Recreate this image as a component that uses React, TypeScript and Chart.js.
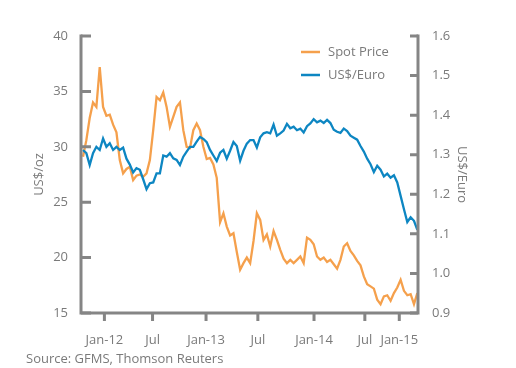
import React, { useEffect, useRef } from 'react';
import { Chart, registerables } from 'chart.js';

Chart.register(...registerables);

// Weekly-ish samples, Oct 2011 – Feb 2015 (index = sample number)
const spotPrice = [
  29.1, 30.6, 32.6, 34.0, 33.6, 37.2, 33.6, 32.8, 32.9, 32.0,
  31.3, 28.8, 27.6, 28.0, 28.2, 27.0, 27.4, 27.5, 27.3, 27.6,
  28.8, 31.5, 34.5, 34.2, 34.9, 33.6, 31.8, 32.7, 33.6, 34.0,
  31.5, 30.0, 29.9, 31.5, 32.1, 31.5, 30.0, 28.9, 29.0, 28.4,
  27.2, 23.2, 24.0, 22.8, 22.0, 22.2, 20.5, 18.9, 19.5, 20.0,
  19.5, 21.5, 24.0, 23.4, 21.6, 22.1, 21.0, 22.4, 21.6, 20.7,
  19.9, 19.5, 19.8, 19.5, 19.8, 20.1, 19.5, 21.8, 21.6, 21.2,
  20.1, 19.8, 20.0, 19.6, 19.8, 19.4, 19.0, 19.8, 21.0, 21.3,
  20.6, 20.2, 19.7, 19.3, 18.3, 17.6, 17.4, 17.2, 16.2, 15.8,
  16.5, 16.6, 16.1, 16.8, 17.3, 18.0, 17.0, 16.6, 16.7, 15.8,
  16.8,
];

const usdEuro = [
  1.312, 1.304, 1.274, 1.304, 1.320, 1.312, 1.341, 1.320, 1.329, 1.312,
  1.320, 1.312, 1.318, 1.290, 1.275, 1.255, 1.266, 1.262, 1.238, 1.213,
  1.228, 1.230, 1.253, 1.253, 1.298, 1.295, 1.304, 1.291, 1.287, 1.274,
  1.295, 1.308, 1.320, 1.320, 1.333, 1.345, 1.340, 1.332, 1.312, 1.298,
  1.284, 1.305, 1.312, 1.290, 1.310, 1.332, 1.322, 1.285, 1.310, 1.328,
  1.337, 1.337, 1.318, 1.344, 1.354, 1.357, 1.354, 1.376, 1.348, 1.354,
  1.361, 1.378, 1.367, 1.371, 1.362, 1.366, 1.356, 1.372, 1.379, 1.390,
  1.382, 1.386, 1.380, 1.388, 1.380, 1.363, 1.358, 1.355, 1.366, 1.360,
  1.348, 1.343, 1.338, 1.322, 1.308, 1.290, 1.276, 1.256, 1.272, 1.262,
  1.245, 1.252, 1.242, 1.248, 1.230, 1.196, 1.162, 1.130, 1.142, 1.133,
  1.110,
];

const xTickPositions = [6.4, 20.8, 36.8, 52.3, 69.1, 84.3, 94.6];
const xTickLabels = ['Jan-12', 'Jul', 'Jan-13', 'Jul', 'Jan-14', 'Jul', 'Jan-15'];

const SPOT_COLOR = '#F5A04C';
const EURO_COLOR = '#0D86C2';
const AXIS_COLOR = '#858585';
const TEXT_COLOR = '#7a7a7a';
const FONT = "'Open Sans', sans-serif";

const decorPlugin = {
  id: 'decor',
  afterDraw(chart: any) {
    const { ctx, chartArea: a, scales } = chart;
    ctx.save();
    ctx.strokeStyle = AXIS_COLOR;
    ctx.lineWidth = 3;
    ctx.lineCap = 'butt';
    ctx.beginPath();
    ctx.moveTo(a.left, a.top - 1.5);
    ctx.lineTo(a.left, a.bottom + 1.5);
    ctx.moveTo(a.right, a.top - 1.5);
    ctx.lineTo(a.right, a.bottom + 1.5);
    ctx.moveTo(a.left - 1.5, a.bottom);
    ctx.lineTo(a.right + 1.5, a.bottom);
    ctx.stroke();

    ctx.beginPath();
    scales.yL.ticks.forEach((t: any) => {
      const y = scales.yL.getPixelForValue(t.value);
      ctx.moveTo(a.left, y);
      ctx.lineTo(a.left + 10, y);
    });
    scales.yR.ticks.forEach((t: any) => {
      const y = scales.yR.getPixelForValue(t.value);
      ctx.moveTo(a.right - 8, y);
      ctx.lineTo(a.right, y);
    });
    scales.x.ticks.forEach((t: any) => {
      const x = scales.x.getPixelForValue(t.value);
      ctx.moveTo(x, a.bottom);
      ctx.lineTo(x, a.bottom + 8);
    });
    ctx.stroke();

    // legend
    const items = [
      { label: 'Spot Price', color: SPOT_COLOR, y: 52 },
      { label: 'US$/Euro', color: EURO_COLOR, y: 75 },
    ];
    ctx.font = `13px ${FONT}`;
    ctx.textBaseline = 'middle';
    ctx.textAlign = 'left';
    items.forEach((it) => {
      ctx.strokeStyle = it.color;
      ctx.lineWidth = 2.5;
      ctx.beginPath();
      ctx.moveTo(301, it.y);
      ctx.lineTo(320, it.y);
      ctx.stroke();
      ctx.fillStyle = TEXT_COLOR;
      ctx.fillText(it.label, 328, it.y);
    });
    ctx.restore();
  },
};

export default function App() {
  const ref = useRef<HTMLCanvasElement | null>(null);

  useEffect(() => {
    if (!ref.current) return;
    const tickFont = { family: FONT, size: 13 };
    const chart = new Chart(ref.current, {
      type: 'line',
      data: {
        datasets: [
          {
            label: 'US$/Euro',
            data: usdEuro.map((y, i) => ({ x: i, y })),
            borderColor: EURO_COLOR,
            borderWidth: 2.3,
            pointRadius: 0,
            tension: 0,
            yAxisID: 'yR',
          },
          {
            label: 'Spot Price',
            data: spotPrice.map((y, i) => ({ x: i, y })),
            borderColor: SPOT_COLOR,
            borderWidth: 2.3,
            pointRadius: 0,
            tension: 0,
            yAxisID: 'yL',
          },
        ],
      },
      options: {
        responsive: false,
        animation: false,
        layout: { padding: { top: 36, left: 0, right: 0, bottom: 0 } },
        plugins: { legend: { display: false }, tooltip: { enabled: false } },
        scales: {
          x: {
            type: 'linear',
            min: -0.6,
            max: 100.2,
            grid: { display: false },
            border: { display: false },
            afterBuildTicks: (scale: any) => {
              scale.ticks = xTickPositions.map((v) => ({ value: v }));
            },
            afterFit: (scale: any) => {
              scale.height = 55;
            },
            ticks: {
              autoSkip: false,
              maxRotation: 0,
              padding: 11,
              color: TEXT_COLOR,
              font: tickFont,
              callback: (v: any) => {
                const idx = xTickPositions.indexOf(Number(v));
                return idx >= 0 ? xTickLabels[idx] : '';
              },
            },
          },
          yL: {
            type: 'linear',
            position: 'left',
            min: 15,
            max: 40,
            grid: { display: false },
            border: { display: false },
            afterFit: (scale: any) => {
              scale.width = 81;
            },
            ticks: { stepSize: 5, padding: 5, color: TEXT_COLOR, font: tickFont },
            title: {
              display: true,
              text: 'US$/oz',
              color: TEXT_COLOR,
              font: tickFont,
              padding: { top: 31, bottom: 0 },
            },
          },
          yR: {
            type: 'linear',
            position: 'right',
            min: 0.9,
            max: 1.6,
            grid: { display: false },
            border: { display: false },
            afterFit: (scale: any) => {
              scale.width = 98;
            },
            ticks: {
              stepSize: 0.1,
              padding: 6,
              color: TEXT_COLOR,
              font: tickFont,
              callback: (v: any) => Number(v).toFixed(1),
            },
            title: {
              display: true,
              text: 'US$/Euro',
              color: TEXT_COLOR,
              font: tickFont,
              padding: { top: 46, bottom: 0 },
            },
          },
        },
      },
      plugins: [decorPlugin],
    } as any);
    return () => chart.destroy();
  }, []);

  return (
    <div
      style={{
        position: 'fixed',
        left: 0,
        top: 0,
        width: 516,
        height: 368,
        background: '#fff',
      }}
    >
      <canvas ref={ref} width={516} height={368} style={{ position: 'absolute', left: 0, top: 0 }} />
      <div
        style={{
          position: 'absolute',
          left: 26,
          top: 349,
          fontFamily: FONT,
          fontSize: 13,
          color: TEXT_COLOR,
          lineHeight: '18px',
          whiteSpace: 'nowrap',
        }}
      >
        Source: GFMS, Thomson Reuters
      </div>
    </div>
  );
}
